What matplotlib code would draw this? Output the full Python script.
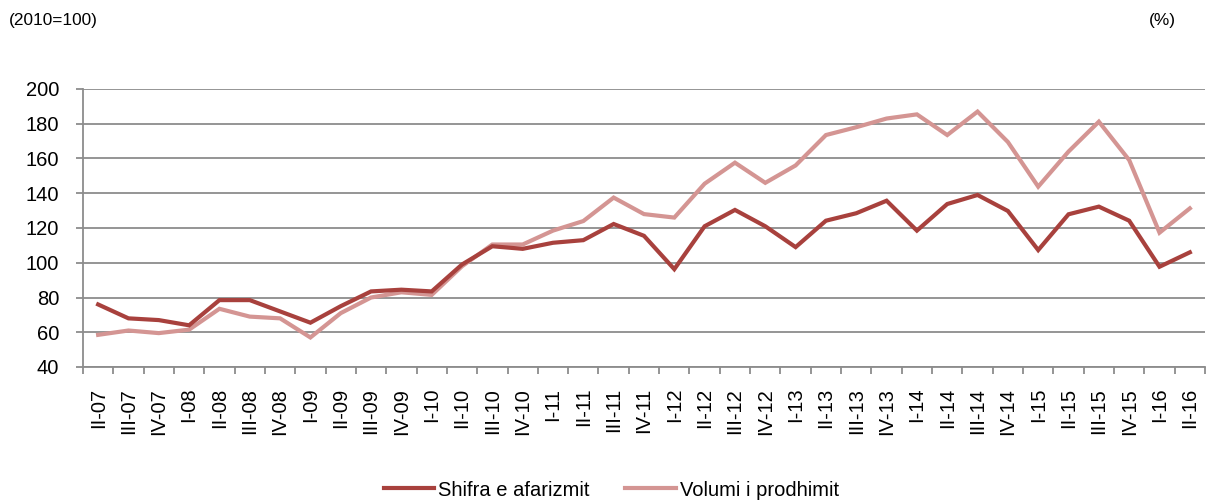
import numpy as np
import matplotlib.pyplot as plt

plt.rcParams['font.family'] = ['Liberation Sans', 'DejaVu Sans']

quarters = ['II-07', 'III-07', 'IV-07', 'I-08', 'II-08', 'III-08', 'IV-08',
            'I-09', 'II-09', 'III-09', 'IV-09', 'I-10', 'II-10', 'III-10', 'IV-10',
            'I-11', 'II-11', 'III-11', 'IV-11', 'I-12', 'II-12', 'III-12', 'IV-12',
            'I-13', 'II-13', 'III-13', 'IV-13', 'I-14', 'II-14', 'III-14', 'IV-14',
            'I-15', 'II-15', 'III-15', 'IV-15', 'I-16', 'II-16']

# Shifra e afarizmit
shifra = [76, 68, 67, 64, 78.5, 78.5, 72, 65.5, 75, 83.5, 84.5, 83.5, 99,
          109.5, 108, 111.5, 113, 122.3, 115.5, 96.3, 121, 130.4, 121, 109,
          124.2, 128.5, 135.7, 118.5, 133.8, 139, 129.8, 107.3, 127.9, 132.3,
          124.2, 97.7, 106]

# Volumi i prodhimit
volumi = [58.5, 61, 59.5, 61.5, 73.5, 69, 68, 57, 71, 80, 83, 81.5, 98,
          110.5, 110.5, 118.5, 124, 137.5, 128, 126, 145.5, 157.6, 146, 156,
          173.5, 178, 183, 185.4, 173.5, 187, 169.5, 143.8, 164, 181.2, 159.1,
          117.3, 131.3]

fig = plt.figure(figsize=(12.13, 5.0), dpi=100)
ax = fig.add_axes([0.0684, 0.266, 0.925, 0.556])

x = np.arange(len(quarters))
ax.plot(x, shifra, color='#A8413D', lw=3, solid_joinstyle='miter',
        label='Shifra e afarizmit', zorder=3)
ax.plot(x, volumi, color='#D49593', lw=3, solid_joinstyle='miter',
        label='Volumi i prodhimit', zorder=2)

ax.set_xlim(-0.5, len(quarters) - 0.5)
ax.set_ylim(40, 200)
ax.set_yticks(np.arange(40, 201, 20))
ax.yaxis.grid(True, color='#8C8C8C', lw=1.3)
ax.set_axisbelow(True)

ax.set_xticks(x)
ax.set_xticklabels(quarters, rotation=90, fontsize=14.5)
ax.set_xticks(np.arange(-0.5, len(quarters), 1), minor=True)
ax.tick_params(axis='x', which='major', length=0, pad=15)
ax.tick_params(axis='x', which='minor', length=5, color='#8C8C8C', width=1.3)
ax.tick_params(axis='y', length=5, color='#8C8C8C', width=1.3, labelsize=14.5, pad=12)

for s in ['top', 'right']:
    ax.spines[s].set_visible(False)
for s in ['left', 'bottom']:
    ax.spines[s].set_color('#8C8C8C')
    ax.spines[s].set_linewidth(1.3)

fig.text(0.007, 0.96, '(2010=100)', fontsize=12.4, va='center')
fig.text(0.9695, 0.96, '(%)', fontsize=12.4, va='center', ha='right')

fig.legend(loc='center', bbox_to_anchor=(0.504, 0.02), ncol=2, frameon=False,
           fontsize=14.5, handlelength=2.5, columnspacing=1.75, handletextpad=0.2)

fig.savefig('out.png', dpi=100)
